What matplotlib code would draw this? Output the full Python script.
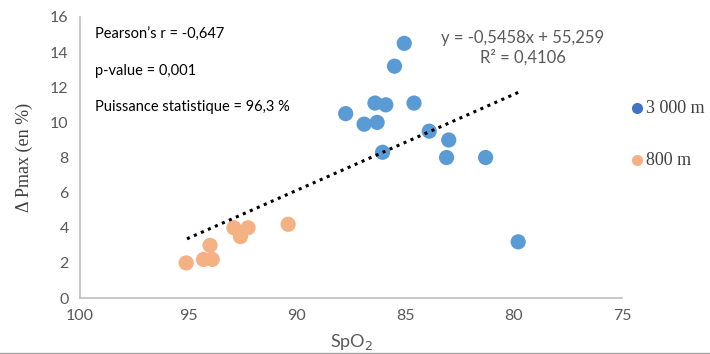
import numpy as np
import matplotlib.pyplot as plt
from matplotlib.lines import Line2D

# data
spo2_3000 = [87.75, 86.9, 86.4, 86.3, 86.05, 85.9, 85.5, 85.05, 84.6, 83.9, 83.0, 83.1, 81.3, 79.8]
pmax_3000 = [10.5, 9.9, 11.1, 10.0, 8.3, 11.0, 13.2, 14.5, 11.1, 9.5, 9.0, 8.0, 8.0, 3.2]
spo2_800 = [95.1, 94.3, 93.9, 94.0, 92.9, 92.6, 92.25, 90.4]
pmax_800 = [2.0, 2.2, 2.2, 3.0, 4.0, 3.5, 4.0, 4.2]

slope = -0.5458
intercept = 55.259
stats_lines = ["Pearson\u2019s r = -0,647", "p-value = 0,001", "Puissance statistique = 96,3 %"]
eq_text = "y = -0,5458x + 55,259\nR\u00b2 = 0,4106"
legend_labels = ["3 000 m", "800 m"]

blue = '#5B9BD5'
blue_dark = '#4472C4'
orange = '#F4B183'
grey_txt = '#595959'

fig = plt.figure(figsize=(7.1, 3.54), dpi=100)
ax = fig.add_axes([0.1125, 0.158, 0.764, 0.794])

ax.scatter(spo2_3000, pmax_3000, s=120, color=blue, edgecolors='none', zorder=3)
ax.scatter(spo2_800, pmax_800, s=120, color=orange, edgecolors='none', zorder=3)

# trend line over the data range
allx = np.array(spo2_3000 + spo2_800)
xt = np.array([allx.min(), allx.max()])
ax.plot(xt, slope*xt + intercept, color='black', linestyle=(0, (1, 1.5)), lw=2.2, zorder=4)

ax.set_xlim(100, 75)
ax.set_ylim(0, 16)
ax.set_xticks([100, 95, 90, 85, 80, 75])
ax.set_yticks(range(0, 17, 2))
ax.tick_params(length=0, labelsize=11.5, labelcolor=grey_txt, pad=8)
for lab in ax.get_xticklabels() + ax.get_yticklabels():
    lab.set_family('Lato')

for s in ['top', 'right']:
    ax.spines[s].set_visible(False)
for s in ['left', 'bottom']:
    ax.spines[s].set_color('#BFBFBF')
    ax.spines[s].set_linewidth(1.2)

ax.set_xlabel("SpO$_2$", family='Lato', fontsize=13, color=grey_txt, labelpad=2)
ax.xaxis.set_label_coords(0.5, -0.122)
ax.set_ylabel("\u0394 Pmax (en %)", family='Liberation Serif', fontsize=13, color='#404040')
ax.yaxis.set_label_coords(-0.087, 0.5)

for i, t in enumerate(stats_lines):
    fig.text(95/710, 1 - (35 + i*36)/354, t, family='Lato', fontsize=10.5,
             color='black', va='center', ha='left')

fig.text(523/710, 1 - 48/354, eq_text, family='Lato', fontsize=12, color=grey_txt,
         ha='center', va='center', linespacing=1.25)

# legend
for (lab, col, yy) in zip(legend_labels, [blue_dark, orange], [108, 160]):
    fig.add_artist(Line2D([637/710], [1 - yy/354], marker='o', markersize=7,
                          color=col, linestyle='none'))
    fig.text(646/710, 1 - yy/354, lab, family='Liberation Serif', fontsize=13,
             color='#404040', va='center', ha='left')

fig.add_artist(Line2D([0, 1], [0.002, 0.002], color='#A6A6A6', lw=1))

fig.savefig('out.png', dpi=100)
